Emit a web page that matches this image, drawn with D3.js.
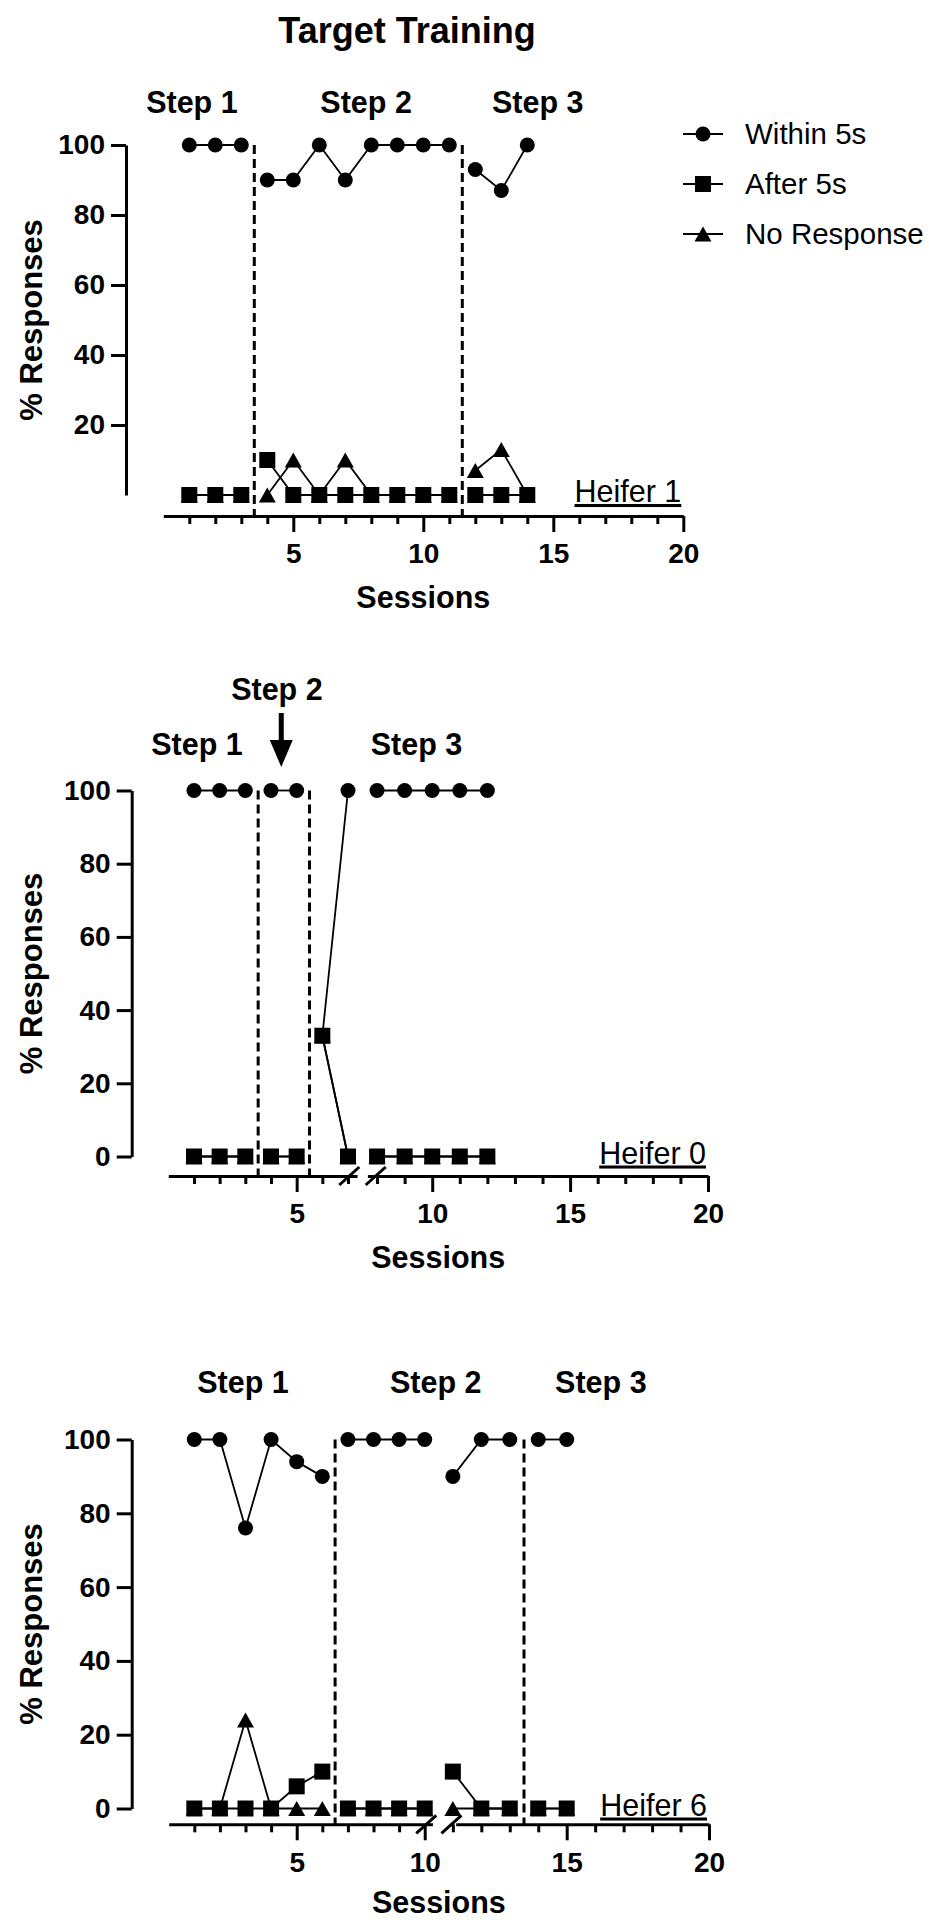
<!DOCTYPE html>
<html>
<head>
<meta charset="utf-8">
<script src="https://cdn.jsdelivr.net/npm/d3@7"></script>
<style>
  body { margin: 0; background: #fff; }
  svg text { font-family: "Liberation Sans", Arial, Helvetica, sans-serif; fill: #000; }
</style>
</head>
<body>
<div class="board"></div>
<script>
/*
=================================
DATA
=================================
*/
var chartTitle = 'Target Training';
var stepNames = ['Step 1', 'Step 2', 'Step 3'];
var seriesNames = ['Within 5s', 'After 5s', 'No Response'];

// Heifer 1
var sessions1 = [1, 2, 3, 4, 5, 6, 7, 8, 9, 10, 11, 12, 13, 14];
var within1   = [100, 100, 100, 90, 90, 100, 90, 100, 100, 100, 100, 93, 87, 100];
var after1    = [0, 0, 0, 10, 0, 0, 0, 0, 0, 0, 0, 0, 0, 0];
var noResp1   = [0, 0, 0, 0, 10, 0, 10, 0, 0, 0, 0, 7, 13, 0];
var phaseLines1 = [3.5, 11.5];
var stepAt1 = [1.1, 7.8, 14.4];

// Heifer 0
var sessions0 = [1, 2, 3, 4, 5, 6, 7, 8, 9, 10, 11, 12];
var within0   = [100, 100, 100, 100, 100, 33, 100, 100, 100, 100, 100, 100];
var after0    = [0, 0, 0, 0, 0, 33, 0, 0, 0, 0, 0, 0];
var noResp0   = [0, 0, 0, 0, 0, 33, 0, 0, 0, 0, 0, 0];
var phaseLines0 = [3.5, 5.5];
var stepAt0 = [1.12, 4.23, 9.43];
var slashAt0 = [7.05, 7.95];
var arrowAt0 = 4.4;

// Heifer 6
var sessions6 = [1, 2, 3, 4, 5, 6, 7, 8, 9, 10, 11, 12, 13, 14, 15];
var within6   = [100, 100, 76, 100, 94, 90, 100, 100, 100, 100, 90, 100, 100, 100, 100];
var after6    = [0, 0, 0, 0, 6, 10, 0, 0, 0, 0, 10, 0, 0, 0, 0];
var noResp6   = [0, 0, 24, 0, 0, 0, 0, 0, 0, 0, 0, 0, 0, 0, 0];
var phaseLines6 = [6.5, 13.5];
var stepAt6 = [2.9, 10.4, 16.2];
var slashAt6 = [10.06, 10.95];

// axis ticks
var yTicksTop = [20, 40, 60, 80, 100];
var yTicksAll = [0, 20, 40, 60, 80, 100];
var xMajor = [5, 10, 15, 20];


/*
=================================
LAYOUT
=================================
*/
var panels = [
  {
    label: 'Heifer 1', sessions: sessions1, within: within1, after: after1, noResp: noResp1,
    phases: phaseLines1, steps: stepAt1, yTicks: yTicksTop, slashes: [],
    segs: [{ dom: [0, 20], rng: [163.3, 683.3], first: 1, last: 20 }],
    yRange: [495, 145], yAxisX: 126, xAxisY: 516, stepY: [113, 113, 113],
    xLabPad: 11, sessY: 608, legend: true
  },
  {
    label: 'Heifer 0', sessions: sessions0, within: within0, after: after0, noResp: noResp0,
    phases: phaseLines0, steps: stepAt0, yTicks: yTicksAll, slashes: slashAt0,
    segs: [{ dom: [0, 7.35], rng: [168.3, 357], first: 1, last: 7 },
           { dom: [7.65, 20], rng: [367.4, 708], first: 8, last: 20 }],
    yRange: [1156.5, 790.5], yAxisX: 131.7, xAxisY: 1176, stepY: [755, 700, 755],
    xLabPad: 11, sessY: 1268, arrow: arrowAt0
  },
  {
    label: 'Heifer 6', sessions: sessions6, within: within6, after: after6, noResp: noResp6,
    phases: phaseLines6, steps: stepAt6, yTicks: yTicksAll, slashes: slashAt6,
    segs: [{ dom: [0, 10.3], rng: [168.7, 432.4], first: 1, last: 10 },
           { dom: [11.1, 20], rng: [455.7, 709], first: 11, last: 20 }],
    yRange: [1808.5, 1439.5], yAxisX: 131.7, xAxisY: 1824.3, stepY: [1393, 1393, 1393],
    xLabPad: 12, sessY: 1913
  }
];

var fontFam = '"Liberation Sans", Arial, Helvetica, sans-serif';


/*
=================================
SYMBOLS
=================================
*/
var triangleType = {
  draw: function(ctx) {
    ctx.moveTo(0, -7.5);
    ctx.lineTo(8.5, 7.5);
    ctx.lineTo(-8.5, 7.5);
    ctx.closePath();
  }
};
var symCircle = d3.symbol().type(d3.symbolCircle).size(Math.PI * 7.5 * 7.5);
var symSquare = d3.symbol().type(d3.symbolSquare).size(16 * 16);
var symTriangle = d3.symbol().type(triangleType);


/*
=================================
SVG CONTAINER
=================================
*/
var svg = d3.select('.board').append('svg')
            .attr('width', 929)
            .attr('height', 1922);

svg.append('text')
   .attr('x', 407)
   .attr('y', 43)
   .attr('text-anchor', 'middle')
   .style('font-size', '36px')
   .style('font-weight', 'bold')
   .text(chartTitle);


/*
=================================
DRAW ONE PANEL
=================================
*/
var drawPanel = function(p) {
  var g = svg.append('g');

  var y = d3.scaleLinear().domain([0, 100]).range(p.yRange);
  var xScales = p.segs.map(function(s) {
    return d3.scaleLinear().domain(s.dom).range(s.rng);
  });
  var x = function(v) {
    for (var i = 0; i < p.segs.length; i++) {
      if (v <= p.segs[i].dom[1] || i === p.segs.length - 1) return xScales[i](v);
    }
  };

  // Y AXIS
  var yAxis = d3.axisLeft(y)
                .tickValues(p.yTicks)
                .tickSize(15)
                .tickSizeOuter(0)
                .tickPadding(6);
  var ya = g.append('g')
            .attr('transform', 'translate(' + p.yAxisX + ',0)')
            .call(yAxis)
            .attr('font-family', fontFam)
            .attr('font-size', 28)
            .attr('font-weight', 'bold');
  ya.selectAll('path, line').attr('stroke', '#000').attr('stroke-width', 3);

  // X AXIS (one per segment)
  p.segs.forEach(function(s, i) {
    var all = d3.range(s.first, s.last + 1);
    var minorAxis = d3.axisBottom(xScales[i])
                      .tickValues(all.filter(function(v) { return xMajor.indexOf(v) < 0; }))
                      .tickSize(8)
                      .tickSizeOuter(0)
                      .tickFormat('');
    var majorAxis = d3.axisBottom(xScales[i])
                      .tickValues(all.filter(function(v) { return xMajor.indexOf(v) >= 0; }))
                      .tickSize(16)
                      .tickSizeOuter(0)
                      .tickPadding(p.xLabPad);

    var mi = g.append('g')
              .attr('transform', 'translate(0,' + p.xAxisY + ')')
              .call(minorAxis);
    mi.select('.domain').remove();
    mi.selectAll('line').attr('stroke', '#000').attr('stroke-width', 3);

    var ma = g.append('g')
              .attr('transform', 'translate(0,' + p.xAxisY + ')')
              .call(majorAxis)
              .attr('font-family', fontFam)
              .attr('font-size', 28)
              .attr('font-weight', 'bold');
    ma.selectAll('path, line').attr('stroke', '#000').attr('stroke-width', 3);
  });

  // axis break slashes
  p.slashes.forEach(function(v) {
    var cx = x(v);
    g.append('line')
     .attr('x1', cx - 10).attr('y1', p.xAxisY + 9)
     .attr('x2', cx + 10).attr('y2', p.xAxisY - 9)
     .attr('stroke', '#000')
     .attr('stroke-width', 3);
  });

  // axis titles
  g.append('text')
   .attr('transform', 'translate(42,' + ((p.yRange[0] + p.yRange[1]) / 2) + ') rotate(-90)')
   .attr('text-anchor', 'middle')
   .style('font-size', '31px')
   .style('font-weight', 'bold')
   .text('% Responses');

  g.append('text')
   .attr('x', (p.segs[0].rng[0] + p.segs[p.segs.length - 1].rng[1]) / 2)
   .attr('y', p.sessY)
   .attr('text-anchor', 'middle')
   .style('font-size', '30.5px')
   .style('font-weight', 'bold')
   .text('Sessions');

  // PHASE CHANGE LINES
  g.selectAll('.phase').data(p.phases).enter().append('line')
   .attr('class', 'phase')
   .attr('x1', function(d) { return x(d); })
   .attr('x2', function(d) { return x(d); })
   .attr('y1', y(100))
   .attr('y2', p.xAxisY)
   .attr('stroke', '#000')
   .attr('stroke-width', 3)
   .attr('stroke-dasharray', '9,5');

  // step labels
  g.selectAll('.step').data(p.steps).enter().append('text')
   .attr('class', 'step')
   .attr('x', function(d) { return x(d); })
   .attr('y', function(d, i) { return p.stepY[i]; })
   .attr('text-anchor', 'middle')
   .style('font-size', '30.5px')
   .style('font-weight', 'bold')
   .text(function(d, i) { return stepNames[i]; });

  if (p.arrow !== undefined) {
    var ax = x(p.arrow);
    g.append('line')
     .attr('x1', ax).attr('x2', ax)
     .attr('y1', 713).attr('y2', 742)
     .attr('stroke', '#000')
     .attr('stroke-width', 5);
    g.append('path')
     .attr('d', 'M' + (ax - 11.5) + ',740L' + (ax + 11.5) + ',740L' + ax + ',767Z')
     .attr('fill', '#000');
  }

  // heifer label
  g.append('text')
   .attr('x', p.segs[p.segs.length - 1].rng[1] - 2)
   .attr('y', y(0) + 7)
   .attr('text-anchor', 'end')
   .style('font-size', '30.5px')
   .style('text-decoration', 'underline')
   .text(p.label);

  // SERIES
  var cuts = p.phases.slice();
  if (p.segs.length > 1) cuts.push(p.segs[0].dom[1]);
  var runOf = function(s) {
    return cuts.filter(function(c) { return c < s; }).length;
  };

  var line = d3.line()
               .x(function(d) { return x(d.s); })
               .y(function(d) { return y(d.v); });

  var series = [
    { values: p.within, sym: symCircle },
    { values: p.noResp, sym: symTriangle },
    { values: p.after, sym: symSquare }
  ];

  series.forEach(function(ser) {
    var pts = p.sessions.map(function(s, i) { return { s: s, v: ser.values[i] }; });
    var runs = d3.groups(pts, function(d) { return runOf(d.s); });

    g.append('g').selectAll('path').data(runs).enter().append('path')
     .attr('d', function(r) { return line(r[1]); })
     .attr('fill', 'none')
     .attr('stroke', '#000')
     .attr('stroke-width', 1.8);

    g.append('g').selectAll('path').data(pts).enter().append('path')
     .attr('d', ser.sym)
     .attr('transform', function(d) { return 'translate(' + x(d.s) + ',' + y(d.v) + ')'; })
     .attr('fill', '#000');
  });

  // LEGEND
  if (p.legend) {
    var legSyms = [symCircle, symSquare, symTriangle];
    var leg = g.selectAll('.leg').data(seriesNames).enter().append('g')
               .attr('class', 'leg')
               .attr('transform', function(d, i) { return 'translate(0,' + (134 + i * 50) + ')'; });
    leg.append('line')
       .attr('x1', 683).attr('x2', 723)
       .attr('stroke', '#000')
       .attr('stroke-width', 1.8);
    leg.append('path')
       .attr('d', function(d, i) { return legSyms[i](); })
       .attr('transform', 'translate(703,0)')
       .attr('fill', '#000');
    leg.append('text')
       .attr('x', 745)
       .attr('dy', '0.35em')
       .style('font-size', '29.5px')
       .text(function(d) { return d; });
  }
};

panels.forEach(drawPanel);
</script>
</body>
</html>
